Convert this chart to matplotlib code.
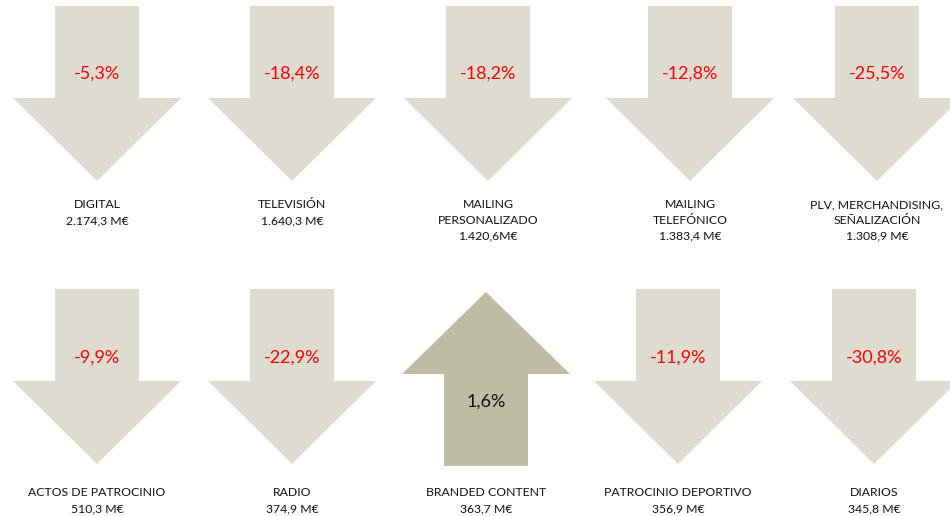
import matplotlib
matplotlib.use('Agg')
import matplotlib.pyplot as plt
from matplotlib.patches import Polygon

plt.rcParams['font.family'] = ['Lato', 'DejaVu Sans']

# datos
categorias = ['DIGITAL', 'TELEVISIÓN', 'MAILING\nPERSONALIZADO', 'MAILING\nTELEFÓNICO',
              'PLV, MERCHANDISING,\nSEÑALIZACIÓN', 'ACTOS DE PATROCINIO', 'RADIO',
              'BRANDED CONTENT', 'PATROCINIO DEPORTIVO', 'DIARIOS']
inversion = ['2.174,3 M€', '1.640,3 M€', '1.420,6M€', '1.383,4 M€', '1.308,9 M€',
             '510,3 M€', '374,9 M€', '363,7 M€', '356,9 M€', '345,8 M€']
variacion = [-5.3, -18.4, -18.2, -12.8, -25.5, -9.9, -22.9, 1.6, -11.9, -30.8]

# posiciones (pixeles) de cada flecha
x_centros = [97, 292, 488, 690, 877, 97, 292, 486, 678, 874]
y_arriba = [6, 6, 6, 6, 6, 289, 289, 289, 289, 289]
y_texto = [199, 199, 199, 199, 199, 487, 487, 487, 487, 487]

color_baja = '#dedcd1'
color_sube = '#bfbca5'


def flecha(cx, y0, sube):
    sw, hw = 42, 84
    if sube:
        pts = [(cx, y0 + 3), (cx + hw, y0 + 85), (cx + sw, y0 + 85), (cx + sw, y0 + 177),
               (cx - sw, y0 + 177), (cx - sw, y0 + 85), (cx - hw, y0 + 85)]
    else:
        pts = [(cx - sw, y0), (cx + sw, y0), (cx + sw, y0 + 92), (cx + hw, y0 + 92),
               (cx, y0 + 175), (cx - hw, y0 + 92), (cx - sw, y0 + 92)]
    return pts


fig = plt.figure(figsize=(9.5, 5.16), dpi=100)
ax = fig.add_axes([0, 0, 1, 1])
ax.set_xlim(0, 950)
ax.set_ylim(516, 0)
ax.axis('off')

for i in range(len(categorias)):
    cx, y0 = x_centros[i], y_arriba[i]
    sube = variacion[i] > 0
    ax.add_patch(Polygon(flecha(cx, y0, sube), closed=True,
                         facecolor=color_sube if sube else color_baja, edgecolor='none'))
    txt = f'{variacion[i]:.1f}%'.replace('.', ',')
    if sube:
        ax.text(cx, y0 + 113, txt, ha='center', va='center', fontsize=13, color='#111111')
    else:
        ax.text(cx, y0 + 68 + (1 if y0 > 100 else 0), txt, ha='center', va='center',
                fontsize=13, color='#ff0000')
    ax.text(cx, y_texto[i], categorias[i] + '\n' + inversion[i], ha='center', va='top',
            fontsize=8.8, color='#111111', linespacing=1.55)

fig.savefig('out.png', dpi=100)
